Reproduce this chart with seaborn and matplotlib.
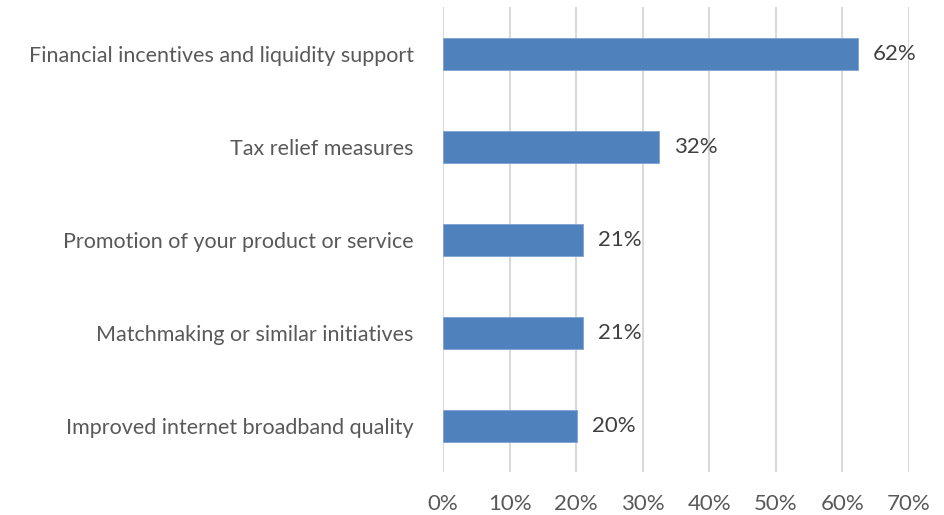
import pandas as pd
import matplotlib.pyplot as plt
import seaborn as sns
from matplotlib.ticker import FuncFormatter

categories = [
    "Financial incentives and liquidity support",
    "Tax relief measures",
    "Promotion of your product or service",
    "Matchmaking or similar initiatives",
    "Improved internet broadband quality",
]
values = [62.3, 32.4, 21.0, 21.0, 20.1]
value_labels = ["62%", "32%", "21%", "21%", "20%"]

df = pd.DataFrame({"measure": categories, "share": values})

sns.set_style("white")
plt.rcParams["font.family"] = ["Lato", "DejaVu Sans"]
text_color = "#595959"

fig = plt.figure(figsize=(9.44, 5.15), dpi=100)
ax = fig.add_axes([0.4693, 0.0835, 0.4937, 0.9025])

sns.barplot(data=df, x="share", y="measure", orient="h", color="#4F81BD",
            width=0.344, edgecolor="#7FA3D3", linewidth=0.6, ax=ax,
            saturation=1, zorder=3)

ax.set_xlim(0, 70)
ax.set_ylim(4.5, -0.5)
ax.set_xticks(range(0, 71, 10))
ax.xaxis.set_major_formatter(FuncFormatter(lambda v, p: f"{int(v)}%"))
ax.grid(axis="x", color="#D9D9D9", linewidth=1.5, zorder=0)
ax.grid(axis="y", visible=False)
for s in ax.spines.values():
    s.set_visible(False)

ax.set_xlabel("")
ax.set_ylabel("")
ax.tick_params(axis="x", length=0, pad=16, labelsize=16, labelcolor=text_color)
ax.tick_params(axis="y", length=0, pad=21, labelsize=15.5, labelcolor=text_color)

# value labels to the right of each bar
for i, (v, lab) in enumerate(zip(values, value_labels)):
    ax.annotate(lab, xy=(v, i), xytext=(15, 0), textcoords="offset pixels",
                va="center", ha="left", fontsize=16, color="#404040")

fig.savefig("out.png", dpi=100)
